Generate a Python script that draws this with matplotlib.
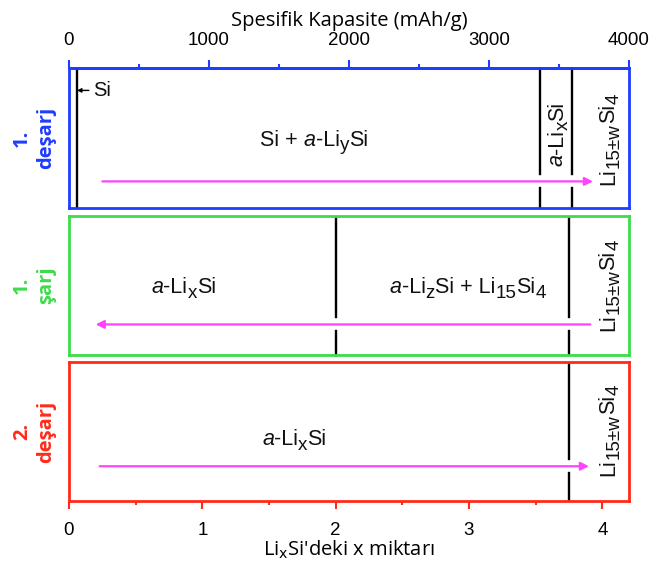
import matplotlib
matplotlib.use("Agg")
import matplotlib.pyplot as plt
from matplotlib.ticker import MultipleLocator
from matplotlib.transforms import offset_copy
from matplotlib.font_manager import FontProperties

plt.rcParams['font.family'] = ['Liberation Sans', 'DejaVu Sans']

# ---- data ----
panel_labels = ["1.\ndeşarj", "1.\nşarj", "2.\ndeşarj"]
panel_colors = ["#1f3cff", "#3ddc4a", "#ff2a1a"]
boundaries = [[0.06, 3.53, 3.77], [2.0, 3.75], [3.75]]
broken = [[False, True, True], [True, True], [True]]
arrow_start = [0.25, 3.91, 0.23]
arrow_end = [3.93, 0.20, 3.90]
arrow_y = [0.19, 0.22, 0.25]
# text pieces: (string, kind) kind: n normal, i italic, s subscript
LIX = [("a", "i"), ("-Li", "n"), ("x", "s"), ("Si", "n")]
LI15W = [("Li", "n"), ("15±w", "s"), ("Si", "n"), ("4", "s")]
phase_texts = [
    [(1.84, 0.50, [("Si + ", "n"), ("a", "i"), ("-Li", "n"), ("y", "s"), ("Si", "n")], 0),
     (3.645, 0.53, LIX, 90),
     (4.03, 0.49, LI15W, 90)],
    [(0.86, 0.50, LIX, 0),
     (2.99, 0.50, [("a", "i"), ("-Li", "n"), ("z", "s"), ("Si + Li", "n"), ("15", "s"),
                   ("Si", "n"), ("4", "s")], 0),
     (4.03, 0.50, LI15W, 90)],
    [(1.69, 0.46, LIX, 0),
     (4.03, 0.51, LI15W, 90)],
]
x_ticks = [0, 1, 2, 3, 4]
cap_ticks = [0, 1000, 2000, 3000, 4000]
xmax = 4.2
capmax = 4000
arrow_color = "#ff44ff"

fig = plt.figure(figsize=(6.56, 5.67), dpi=100)
renderer = fig.canvas.get_renderer()
W, H = 656, 567
left, right = 69, 629
panels_px = [(68, 208), (216, 355), (362, 501)]

BASE = 15.5
SUB = 13.5


def props(kind):
    if kind == "i":
        return FontProperties(family='Liberation Sans', style='italic', size=BASE)
    if kind == "s":
        return FontProperties(family='Liberation Sans', size=SUB)
    return FontProperties(family='Liberation Sans', size=BASE)


def width(s, fp):
    w1, _, _ = renderer.get_text_width_height_descent("|" + s + "|", fp, ismath=False)
    w0, _, _ = renderer.get_text_width_height_descent("||", fp, ismath=False)
    return w1 - w0


def rich_text(ax, x, y, pieces, rot=0):
    em = BASE * fig.dpi / 72.0
    ws = [width(s, props(k)) for s, k in pieces]
    total = sum(ws)
    pos = -total / 2.0
    half_cap = 0.36 * em
    shift = 0.22 * em
    for (s, k), w in zip(pieces, ws):
        perp = -half_cap - (shift if k == "s" else 0.0)
        if rot == 0:
            dx, dy = pos, perp
        else:
            dx, dy = -perp, pos
        tr = offset_copy(ax.transData, fig=fig, x=dx, y=dy, units='dots')
        ax.text(x, y, s, transform=tr, fontproperties=props(k), rotation=rot,
                rotation_mode='anchor', ha='left', va='baseline', color='#111111')
        pos += w


axes = []
for i, (top, bot) in enumerate(panels_px):
    ax = fig.add_axes([left / W, 1 - bot / H, (right - left) / W, (bot - top) / H])
    axes.append(ax)
    c = panel_colors[i]
    ax.set_xlim(0, xmax)
    ax.set_ylim(0, 1)
    for s in ax.spines.values():
        s.set_color(c)
        s.set_linewidth(2)
    ax.set_yticks([])
    gap = 0.05
    for b, br in zip(boundaries[i], broken[i]):
        if br:
            ax.plot([b, b], [0, arrow_y[i] - gap], color='black', lw=1.7)
            ax.plot([b, b], [arrow_y[i] + gap, 1], color='black', lw=1.7)
        else:
            ax.plot([b, b], [0, 1], color='black', lw=1.7)
    ax.annotate("", xy=(arrow_end[i], arrow_y[i]), xytext=(arrow_start[i], arrow_y[i]),
                arrowprops=dict(arrowstyle='-|>', color=arrow_color, lw=1.6,
                                mutation_scale=12, shrinkA=0, shrinkB=0))
    for (tx, ty, pieces, rot) in phase_texts[i]:
        rich_text(ax, tx, ty, pieces, rot)
    ax.text(-0.062, 0.5, panel_labels[i], transform=ax.transAxes, rotation=90,
            ha='center', va='center', color=c, fontsize=14.5, fontweight='bold',
            family='Open Sans', multialignment='center', linespacing=1.3)
    if i == 2:
        ax.set_xticks(x_ticks)
        ax.xaxis.set_minor_locator(MultipleLocator(0.5))
        ax.tick_params(axis='x', which='both', direction='out', color=c, width=1.5,
                       labelsize=13.5, pad=9)
        ax.tick_params(axis='x', which='major', length=6)
        ax.tick_params(axis='x', which='minor', length=3)
        ax.set_xlabel("Li$_{\\mathrm{x}}$Si'deki x miktarı", family='Open Sans',
                      fontsize=14.5, labelpad=0)
    else:
        ax.set_xticks([])

# "Si" pointer in panel 1
axes[0].annotate("Si", xy=(0.06, 0.84), xytext=(0.18, 0.84), va='center', ha='left',
                 fontsize=14.5, color='#111111',
                 arrowprops=dict(arrowstyle='-|>', color='black', lw=1.0,
                                 mutation_scale=6, shrinkA=1, shrinkB=0))

sec = axes[0].secondary_xaxis('top', functions=(lambda x: x * capmax / xmax,
                                                 lambda c: c * xmax / capmax))
sec.set_xticks(cap_ticks)
sec.xaxis.set_minor_locator(MultipleLocator(500))
sec.tick_params(axis='x', which='both', direction='out', color=panel_colors[0],
                width=1.5, labelsize=13.5, pad=8)
sec.tick_params(axis='x', which='major', length=6)
sec.tick_params(axis='x', which='minor', length=3)
sec.spines['top'].set_color(panel_colors[0])
sec.spines['top'].set_linewidth(2)
sec.set_xlabel("Spesifik Kapasite (mAh/g)", family='Open Sans', fontsize=14.5,
               labelpad=4)

fig.savefig("out.png", dpi=100, facecolor='white')
